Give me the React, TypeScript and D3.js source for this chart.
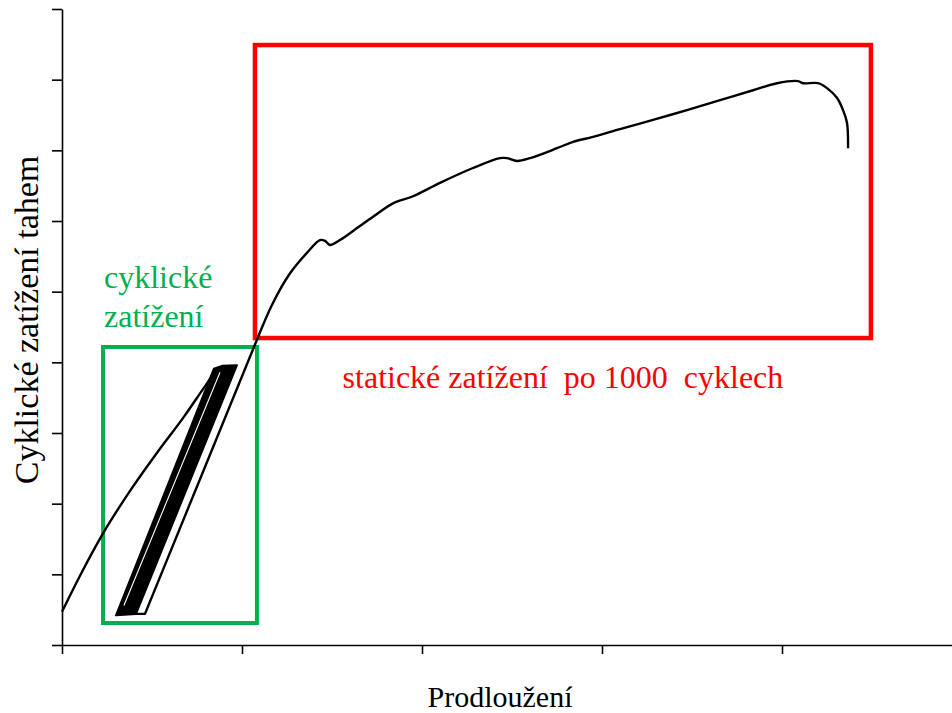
import React, { useEffect, useRef } from 'react'
import * as d3 from 'd3'

// tick values of both axes (labels are hidden in the original)
const xTicks = [0, 1, 2, 3, 4, 5]
const yTicks = [0, 1, 2, 3, 4, 5, 6, 7, 8, 9]

// first loading before the cycles
const firstLoading: [number, number][] = [
  [0.0, 0.47], [0.100, 0.98], [0.228, 1.58], [0.378, 2.18], [0.528, 2.72],
  [0.683, 3.25], [0.794, 3.66], [0.844, 3.84], [0.878, 3.92], [0.972, 3.95],
]

// envelope of the 1000 loading cycles (dense black band)
const cyclesBand: [number, number][] = [
  [0.300, 0.42], [0.844, 3.91], [0.889, 3.95], [0.972, 3.96], [0.411, 0.44],
]

// gap between first cycle and the others
const firstCycleGap: [number, number][] = [
  [0.344, 0.56], [0.878, 3.86],
]

// static loading after 1000 cycles
const staticLoading: [number, number][] = [
  [0.411, 0.44], [0.461, 0.44], [1.083, 4.32], [1.172, 4.84], [1.267, 5.26],
  [1.361, 5.55], [1.433, 5.73], [1.461, 5.72], [1.489, 5.66], [1.544, 5.73],
  [1.639, 5.90], [1.728, 6.06], [1.839, 6.25], [1.950, 6.35], [2.100, 6.54],
  [2.283, 6.75], [2.433, 6.89], [2.472, 6.89], [2.528, 6.85], [2.600, 6.89],
  [2.750, 7.03], [2.839, 7.12], [2.950, 7.19], [3.100, 7.30], [3.283, 7.43],
  [3.472, 7.57], [3.656, 7.71], [3.839, 7.85], [3.972, 7.95], [4.089, 7.98],
  [4.117, 7.95], [4.200, 7.95], [4.250, 7.88], [4.306, 7.74], [4.339, 7.57],
  [4.361, 7.39], [4.367, 7.03],
]

// highlighted regions [x0, x1, y0, y1]
const cyclicRegion = [0.228, 1.083, 0.311, 4.217]
const staticRegion = [1.072, 4.494, 4.344, 8.49]

export default function App() {
  const svgRef = useRef<SVGSVGElement>(null)

  useEffect(() => {
    const width = 952
    const height = 713
    const svg = d3.select(svgRef.current)
      .attr('width', width)
      .attr('height', height)
    svg.selectAll('*').remove()

    const x = d3.scaleLinear().domain([0, 5]).range([62, 962])
    const y = d3.scaleLinear().domain([0, 9]).range([645, 9])

    // axes
    const yAxis = svg.append('g')
      .attr('transform', 'translate(62,0)')
      .call(d3.axisLeft(y).tickValues(yTicks).tickSizeInner(10).tickSizeOuter(0).tickFormat(() => ''))
    const xAxis = svg.append('g')
      .attr('transform', 'translate(0,645)')
      .call(d3.axisBottom(x).tickValues(xTicks).tickSizeInner(9).tickSizeOuter(0).tickFormat(() => ''))
    ;[xAxis, yAxis].forEach(a => {
      a.selectAll('path,line').attr('stroke', '#000').attr('stroke-width', 1.6)
    })

    // regions
    const rect = (r: number[], color: string, sw: number) => {
      svg.append('rect')
        .attr('x', x(r[0]))
        .attr('y', y(r[3]))
        .attr('width', x(r[1]) - x(r[0]))
        .attr('height', y(r[2]) - y(r[3]))
        .attr('fill', 'none')
        .attr('stroke', color)
        .attr('stroke-width', sw)
    }
    rect(cyclicRegion, '#00b050', 4)
    rect(staticRegion, '#ff0000', 4.5)

    const smooth = d3.line<[number, number]>()
      .x(d => x(d[0]))
      .y(d => y(d[1]))
      .curve(d3.curveMonotoneX)
    const straight = d3.line<[number, number]>()
      .x(d => x(d[0]))
      .y(d => y(d[1]))

    // cycles band
    svg.append('path')
      .attr('d', straight(cyclesBand) + 'Z')
      .attr('fill', '#000')
      .attr('stroke', '#000')
      .attr('stroke-width', 2)
      .attr('stroke-linejoin', 'round')
    svg.append('path')
      .attr('d', straight(firstCycleGap))
      .attr('fill', 'none')
      .attr('stroke', '#fff')
      .attr('stroke-width', 1.1)

    svg.append('path')
      .attr('d', smooth(firstLoading))
      .attr('fill', 'none')
      .attr('stroke', '#000')
      .attr('stroke-width', 2.4)

    svg.append('path')
      .attr('d', straight(staticLoading.slice(0, 3)))
      .attr('fill', 'none')
      .attr('stroke', '#000')
      .attr('stroke-width', 2.4)
      .attr('stroke-linejoin', 'round')
    svg.append('path')
      .attr('d', d3.line<[number, number]>().x(d => x(d[0])).y(d => y(d[1])).curve(d3.curveCatmullRom.alpha(0.5))(staticLoading.slice(2)))
      .attr('fill', 'none')
      .attr('stroke', '#000')
      .attr('stroke-width', 2.4)
      .attr('stroke-linejoin', 'round')

    // texts
    const font = 'Liberation Serif, Times New Roman, serif'
    svg.append('text')
      .attr('x', 104).attr('y', 288)
      .attr('font-family', font).attr('font-size', 32)
      .attr('fill', '#00b050')
      .text('cyklické')
    svg.append('text')
      .attr('x', 104).attr('y', 327)
      .attr('font-family', font).attr('font-size', 32)
      .attr('fill', '#00b050')
      .text('zatížení')
    svg.append('text')
      .attr('x', (x(staticRegion[0]) + x(staticRegion[1])) / 2).attr('y', 388)
      .attr('text-anchor', 'middle')
      .attr('font-family', font).attr('font-size', 32)
      .attr('fill', '#ff0000')
      .style('white-space', 'pre')
      .text('statické zatížení  po 1000  cyklech')

    svg.append('text')
      .attr('x', 500).attr('y', 707)
      .attr('text-anchor', 'middle')
      .attr('font-family', font).attr('font-size', 30)
      .attr('fill', '#000')
      .text('Prodloužení')
    svg.append('text')
      .attr('transform', 'translate(38,320) rotate(-90)')
      .attr('text-anchor', 'middle')
      .attr('font-family', font).attr('font-size', 34)
      .attr('fill', '#000')
      .text('Cyklické zatížení tahem')
  }, [])

  return (
    <svg ref={svgRef} style={{ position: 'absolute', left: 0, top: 0, background: '#fff' }}></svg>
  )
}
